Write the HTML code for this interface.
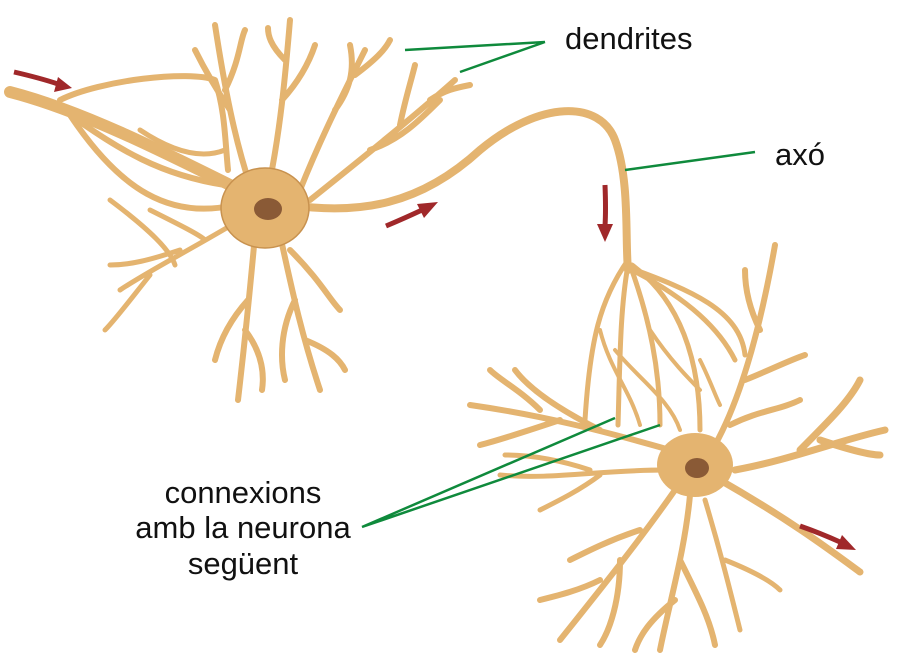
<!DOCTYPE html>
<html><head><meta charset="utf-8"><style>
html,body{margin:0;padding:0;background:#fff;width:900px;height:664px;overflow:hidden}
svg{display:block}
text{font-family:"Liberation Sans",sans-serif;font-size:31px;fill:#111}
</style></head><body>
<svg width="900" height="664" viewBox="0 0 900 664" xmlns="http://www.w3.org/2000/svg">
<defs>
<g id="n" fill="none" stroke-linecap="round" stroke-linejoin="round">
<path d="M10 92 C80 110 160 150 240 190" stroke-width="12"/>
<path d="M60 100 C100 80 190 70 215 80 C225 110 225 140 228 170" stroke-width="6"/>
<path d="M70 115 C120 150 160 175 225 185" stroke-width="6"/>
<path d="M70 115 C120 190 170 220 235 205" stroke-width="6"/>
<path d="M140 130 C170 150 200 160 225 150" stroke-width="5"/>
<path d="M150 210 C180 225 200 235 205 240" stroke-width="5"/>
<path d="M110 200 C150 230 170 250 175 265" stroke-width="5"/>
<path d="M240 220 C190 250 150 270 120 290 M180 250 C150 260 130 265 110 265 M150 275 C130 300 115 320 105 330" stroke-width="5"/>
<path d="M255 235 C250 290 245 340 238 400 M248 300 C230 320 220 340 215 360 M245 330 C260 350 265 370 262 390" stroke-width="6"/>
<path d="M280 235 C290 280 300 330 320 390 M295 300 C280 330 280 360 285 380 M305 340 C330 350 340 360 345 370 M290 250 C320 280 330 300 340 310" stroke-width="6"/>
<path d="M250 185 C235 140 225 90 215 25 M230 110 C210 80 200 60 195 50 M225 90 C240 60 240 40 245 30" stroke-width="6"/>
<path d="M270 180 C280 130 285 80 290 20 M282 100 C300 80 310 60 315 45 M285 60 C270 45 268 35 268 28" stroke-width="6"/>
<path d="M300 190 C320 140 340 100 365 50 M335 110 C350 90 355 70 350 45 M355 75 C375 60 385 50 390 40" stroke-width="6"/>
<path d="M310 200 C360 160 410 120 455 80 M370 150 C400 140 420 120 440 100 M400 125 C405 100 410 85 415 65 M430 100 C445 90 455 88 470 85" stroke-width="6"/>
<path d="M290 205 C360 215 420 205 480 150 C540 100 600 100 615 140 C630 180 625 240 628 270" stroke-width="8"/>
<path d="M628 260 C600 300 590 340 585 420 M628 265 C620 310 620 360 618 425 M630 265 C650 320 660 370 660 425 M632 265 C680 300 700 360 700 430 M632 270 C690 300 720 330 735 360 M630 268 C690 290 740 310 745 355" stroke-width="5"/>
<path d="M600 330 C610 370 630 390 640 425 M615 350 C640 380 670 400 680 430 M650 330 C670 360 690 380 700 390 M700 360 C710 380 715 395 720 405" stroke-width="4"/>
<path d="M670 450 C600 430 540 415 470 405 M600 430 C560 410 530 390 515 370 M560 420 C530 430 500 440 480 445 M540 410 C520 390 500 380 490 370" stroke-width="6"/>
<path d="M665 470 C600 470 550 480 500 475 M590 470 C560 460 530 455 505 455 M600 475 C580 490 560 500 540 510" stroke-width="5"/>
<path d="M675 490 C640 540 600 590 560 640 M640 530 C610 540 590 550 570 560 M600 580 C580 590 560 595 540 600 M620 560 C620 600 610 630 600 645" stroke-width="6"/>
<path d="M690 495 C685 550 670 600 660 650 M680 560 C700 600 710 620 715 645 M675 600 C650 620 640 635 635 650" stroke-width="6"/>
<path d="M720 480 C790 520 830 550 860 572 M735 470 C790 460 840 440 885 430 M800 450 C830 420 850 400 860 380 M820 440 C850 450 870 455 880 455" stroke-width="7"/>
<path d="M715 445 C740 400 760 330 775 245 M745 380 C770 370 790 360 805 355 M760 330 C750 310 745 290 745 270 M730 425 C760 410 780 410 800 400" stroke-width="6"/>
<path d="M705 500 C720 550 730 590 740 630 M725 560 C750 570 770 580 780 590" stroke-width="5"/>
</g>
</defs>
<g stroke="#e4b470"><use href="#n"/></g>
<ellipse cx="265" cy="208" rx="44" ry="40" fill="#e4b470" stroke="#c8924f" stroke-width="1.5"/>
<ellipse cx="268" cy="209" rx="14" ry="11" fill="#8a5a36"/>
<ellipse cx="695" cy="465" rx="38" ry="32" fill="#e4b470"/>
<ellipse cx="697" cy="468" rx="12" ry="10" fill="#8a5a36"/>
<g fill="#a0282a" stroke="#a0282a" stroke-width="5">
<path d="M14 72 Q40 78 58 84" fill="none"/><polygon points="72,88 54,92 58,77" stroke="none"/>
<path d="M386 226 Q405 218 422 210" fill="none"/><polygon points="438,202 424,218 417,204" stroke="none"/>
<path d="M605 185 Q606 210 605 226" fill="none"/><polygon points="605,242 597,224 613,224" stroke="none"/>
<path d="M800 526 Q820 533 840 542" fill="none"/><polygon points="856,550 836,549 842,535" stroke="none"/>
</g>
<g stroke="#0f8a3c" stroke-width="2.5" fill="none">
<path d="M405 50 L545 42 M460 72 L545 42"/>
<path d="M625 170 L755 152"/>
<path d="M362 527 L615 418 M362 527 L660 425"/>
</g>
<text x="565" y="49">dendrites</text>
<text x="775" y="165">axó</text>
<text x="243" y="503" text-anchor="middle">connexions</text>
<text x="243" y="538" text-anchor="middle">amb la neurona</text>
<text x="243" y="574" text-anchor="middle">següent</text>
</svg>
</body></html>
